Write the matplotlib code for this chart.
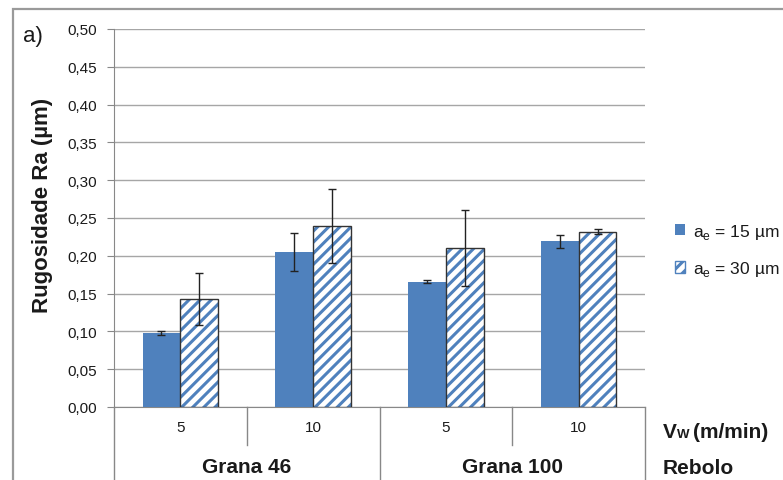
import numpy as np
import matplotlib.pyplot as plt
from matplotlib.patches import Rectangle
from matplotlib.lines import Line2D

# dados
vw_labels = ['5', '10', '5', '10']
rebolo_labels = ['Grana 46', 'Grana 100']
ra_15 = [0.098, 0.205, 0.166, 0.219]
err_15 = [0.003, 0.025, 0.002, 0.009]
ra_30 = [0.143, 0.240, 0.210, 0.232]
err_30 = [0.034, 0.049, 0.050, 0.003]

azul = '#4f81bd'
plt.rcParams['font.family'] = ['Liberation Sans', 'DejaVu Sans']
plt.rcParams['hatch.linewidth'] = 2.2
plt.rcParams['text.color'] = '#1a1a1a'

fig = plt.figure(figsize=(7.83, 4.81), dpi=100)
W, H = 783, 481
ax = fig.add_axes([114 / W, (H - 408) / H, (645 - 114) / W, (408 - 30) / H])

x = np.arange(len(vw_labels))
w = 0.285
ax.bar(x - w / 2, ra_15, w, color=azul, zorder=3)
ax.bar(x + w / 2, ra_30, w, color='white', edgecolor=azul, hatch='///', linewidth=0, zorder=3)
ax.bar(x + w / 2, ra_30, w, fill=False, edgecolor='#333333', linewidth=1, zorder=4)
ax.errorbar(x - w / 2, ra_15, yerr=err_15, fmt='none', ecolor='#222222', elinewidth=1, capsize=3, zorder=5)
ax.errorbar(x + w / 2, ra_30, yerr=err_30, fmt='none', ecolor='#222222', elinewidth=1, capsize=3, zorder=5)

ax.set_xlim(-0.5, len(vw_labels) - 0.5)
ax.set_ylim(0, 0.5)
ax.set_yticks(np.arange(0, 0.501, 0.05))
ax.set_yticklabels([f'{v:.2f}'.replace('.', ',') for v in np.arange(0, 0.501, 0.05)], fontsize=11)
ax.yaxis.grid(True, color='#a6a6a6', linewidth=1, zorder=0)
ax.set_xticks([])
for s in ['top', 'right']:
    ax.spines[s].set_visible(False)
ax.spines['left'].set_color('#888888')
ax.spines['bottom'].set_color('#888888')
ax.tick_params(axis='y', length=5, color='#888888', pad=7, labelcolor='#1a1a1a')
fig.text(43 / W, 1 - 205 / H, 'Rugosidade Ra (µm)', rotation=90, ha='center', va='center',
         fontsize=16, fontweight='bold')

# linhas das categorias abaixo do eixo
for i in range(len(vw_labels) + 1):
    xi = i - 0.5
    y_end = -0.19 if i % 2 == 0 else -0.10
    ax.add_line(Line2D([xi, xi], [0, y_end], transform=ax.get_xaxis_transform(),
                       color='#888888', linewidth=1, clip_on=False))
for i, lab in enumerate(vw_labels):
    ax.text(i, -0.053, lab, transform=ax.get_xaxis_transform(), ha='center', va='center', fontsize=11)
for j, lab in enumerate(rebolo_labels):
    ax.text(2 * j + 0.5, -0.158, lab, transform=ax.get_xaxis_transform(), ha='center', va='center',
            fontsize=15, fontweight='bold')

# Vw com o "W" pequeno, na mesma linha de base
yb = 1 - 438 / H
fig.text(663 / W, yb, 'V', ha='left', va='baseline', fontsize=15, fontweight='bold')
fig.text(677 / W, yb, 'W', ha='left', va='baseline', fontsize=9.5, fontweight='bold')
fig.text(693 / W, yb, '(m/min)', ha='left', va='baseline', fontsize=15, fontweight='bold')
fig.text(663 / W, 1 - 469 / H, 'Rebolo', ha='left', va='center', fontsize=15, fontweight='bold')
fig.text(23 / W, 1 - 37 / H, 'a)', ha='left', va='center', fontsize=16)

# legenda
handles = [Rectangle((0, 0), 1, 1, facecolor=azul, edgecolor='none'),
           Rectangle((0, 0), 1, 1, facecolor='white', edgecolor=azul, hatch='///')]
fig.legend(handles, ['a$_\\mathregular{e}$ = 15 µm', 'a$_\\mathregular{e}$ = 30 µm'], loc='center left',
           bbox_to_anchor=(666 / W, 1 - 251 / H), frameon=False, fontsize=12.5, borderpad=0,
           handlelength=0.6, handleheight=0.6, handletextpad=0.45, labelspacing=1.05)

# moldura
fig.add_artist(Rectangle((13 / W, -0.05), 1.0, 1 - 10 / H + 0.05, transform=fig.transFigure, fill=False,
                         edgecolor='#9a9a9a', linewidth=1.6))

fig.savefig('out.png', dpi=100)
